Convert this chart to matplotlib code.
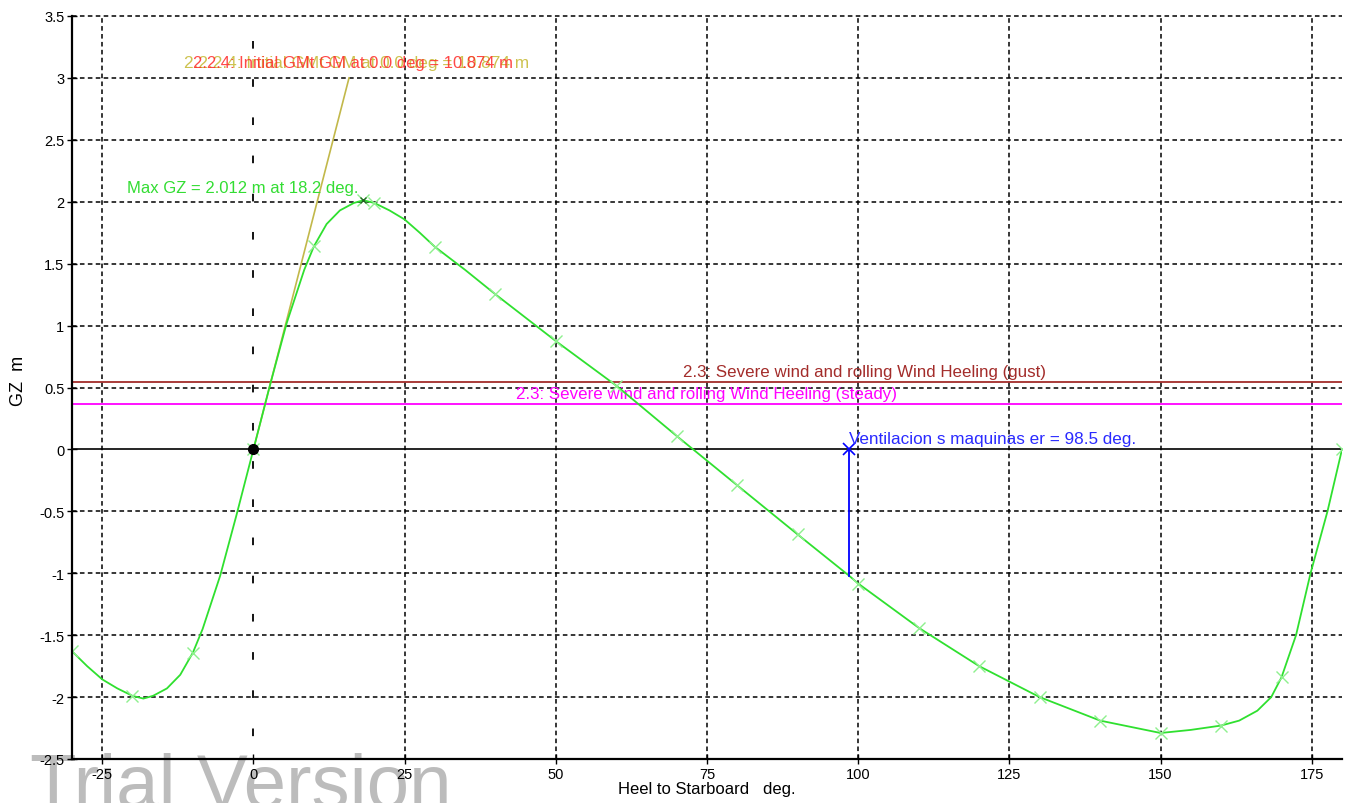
import matplotlib
matplotlib.use("Agg")
import matplotlib.pyplot as plt
import numpy as np

plt.rcParams['font.family'] = ['Liberation Sans', 'DejaVu Sans']
plt.rcParams['lines.scale_dashes'] = False

# Righting lever curve (GZ) against heel angle
heel = [-30, -27.5, -25, -22.5, -20, -18.2, -16.6, -14.3, -12.1, -10, -8.4,
        -5.5, -2.8, 0, 2.8, 5.5, 8.4, 10, 12.1, 14.3, 16.6, 18.2, 20, 22.5,
        25, 27.5, 30, 35, 40, 50, 60, 70, 80, 90, 98.5, 100, 110, 120, 130,
        140, 150, 155, 160, 163, 166, 168.3, 170, 172.4, 174.8, 177.6, 180]
gz = [-1.63, -1.75, -1.857, -1.93, -1.99, -2.012, -1.99, -1.93, -1.82, -1.64,
      -1.45, -1.02, -0.53, 0.0, 0.53, 1.02, 1.45, 1.64, 1.82, 1.93, 1.99,
      2.012, 1.99, 1.93, 1.857, 1.75, 1.636, 1.45, 1.253, 0.875, 0.515, 0.108,
      -0.29, -0.687, -1.02, -1.083, -1.44, -1.75, -2.0, -2.19, -2.29, -2.265,
      -2.23, -2.19, -2.11, -2.0, -1.84, -1.5, -1.0, -0.5, 0.0]
marker_heel = [-30, -20, -10, 0, 10, 18.2, 20, 30, 40, 50, 60, 70, 80, 90, 100,
               110, 120, 130, 140, 150, 160, 170, 180]

max_gz = 2.012
max_gz_heel = 18.2
gm_initial = 10.874
gm_line_top = 3.0
gust_lever = 0.542
steady_lever = 0.364
flood_angle = 98.5

x_ticks = [-25, 0, 25, 50, 75, 100, 125, 150, 175]
y_ticks = [-2.5, -2, -1.5, -1, -0.5, 0, 0.5, 1, 1.5, 2, 2.5, 3, 3.5]
y_tick_labels = ['-2.5', '-2', '-1.5', '-1', '-0.5', '0', '0.5', '1', '1.5',
                 '2', '2.5', '3', '3.5']

heel = np.array(heel)
gz = np.array(gz)

fig = plt.figure(figsize=(13.48, 8.04), dpi=100)
ax = fig.add_axes([72 / 1348, 44 / 804, 1270 / 1348, 743 / 804])
ax.set_xlim(-30, 180)
ax.set_ylim(-2.5, 3.5)

# watermark behind everything
ax.text(-0.033, -0.065, 'Trial Version', transform=ax.transAxes,
        fontsize=55, color='#bcbcbc', ha='left', va='baseline',
        clip_on=False, zorder=0.5)

# grid
grid_kw = dict(color='black', lw=1.1, ls=(0, (3.3, 2.4)), zorder=1, clip_on=False)
for xv in x_ticks:
    if xv != 0:
        ax.axvline(xv, **grid_kw)
for yv in y_ticks:
    if yv not in (0, -2.5):
        ax.axhline(yv, **grid_kw)

# upright reference
ax.plot([0, 0], [3.3, -2.5], color='black', lw=1.3, ls=(0, (5.5, 22)), zorder=1.5)
ax.axhline(0, color='black', lw=1.2, zorder=2)

# heeling lever lines
ax.axhline(gust_lever, color='#a32c2a', lw=1.3, zorder=2)
ax.axhline(steady_lever, color='#ff00ff', lw=1.3, zorder=2)
ax.text(101.0, gust_lever + 0.025, '2.3: Severe wind and rolling Wind Heeling (gust)',
        color='#a32c2a', fontsize=12.2, ha='center', va='bottom', zorder=4)
ax.text(75, steady_lever + 0.025, '2.3: Severe wind and rolling Wind Heeling (steady)',
        color='#ff00ff', fontsize=12.2, ha='center', va='bottom', zorder=4)

# initial GM line
gm_x = np.degrees(gm_line_top / gm_initial)
ax.plot([0, gm_x], [0, gm_line_top], color='#c2b84a', lw=1.2, zorder=3.1)
ax.text(17.0, gm_line_top + 0.06, '2.2.2.4: Initial GMt GM at 0.0 deg = 10.874 m',
        color='#cdc24e', fontsize=12.4, ha='center', va='bottom', zorder=4)
ax.text(16.5, gm_line_top + 0.06, '2.2.4: Initial GMt GM at 0.0 deg = 10.874 m',
        color='#ff2828', fontsize=12, ha='center', va='bottom', zorder=4.1, alpha=0.85)

# GZ curve
ax.plot(heel, gz, color='#2fe02f', lw=1.3, zorder=5)
mask = np.isin(heel, marker_heel)
ax.plot(heel[mask], gz[mask], ls='none', marker='x', ms=8, mew=1.0,
        color='#8ef08e', zorder=5.5)
ax.plot([max_gz_heel], [max_gz], ls='none', marker='x', ms=5, mew=1.0,
        color='#226622', zorder=6)
ax.text(max_gz_heel - 0.9, max_gz + 0.04, f'Max GZ = {max_gz:.3f} m at {max_gz_heel} deg.',
        color='#33dd33', fontsize=12, ha='right', va='bottom', zorder=6)

# downflooding point
flood_gz = gz[heel == flood_angle][0]
ax.plot([flood_angle, flood_angle], [0, flood_gz], color='#0000ff', lw=1.3, zorder=6)
ax.plot([flood_angle], [0], marker='x', ms=8, mew=1.2, color='#0000ff', zorder=6)
ax.text(flood_angle, 0.025, f'Ventilacion s maquinas er = {flood_angle} deg.',
        color='#2a2aff', fontsize=12.3, ha='left', va='bottom', zorder=6)

# origin
ax.plot([0], [0], marker='o', ms=7, color='black', zorder=7)

# axes styling
for side in ('top', 'right'):
    ax.spines[side].set_visible(False)
for side in ('left', 'bottom'):
    ax.spines[side].set_linewidth(1.6)
    ax.spines[side].set_zorder(8)
ax.set_xticks(x_ticks)
ax.set_xticklabels([str(v) for v in x_ticks])
ax.set_yticks(y_ticks)
ax.set_yticklabels(y_tick_labels)
ax.tick_params(direction='inout', length=7, width=1, labelsize=10.5, pad=2,
               colors='black')
ax.set_xlabel('Heel to Starboard   deg.', fontsize=12, labelpad=0)
ax.set_ylabel('GZ  m', fontsize=13, va='center')
ax.yaxis.set_label_coords(-0.0425, 0.51)

fig.savefig('out.png', dpi=100)
